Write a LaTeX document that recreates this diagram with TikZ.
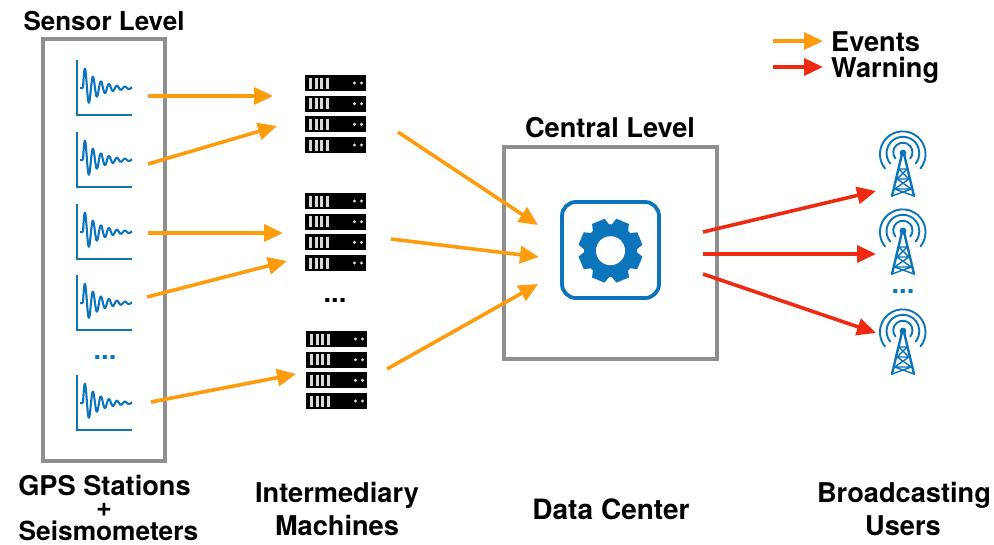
\documentclass[tikz,border=0pt]{standalone}
\usepackage{fontspec}
\setmainfont{TeX Gyre Heros}
\usetikzlibrary{arrows.meta}
\definecolor{iconblue}{HTML}{0B74BA}
\definecolor{evorange}{HTML}{FF9C0D}
\definecolor{warnred}{HTML}{EE2B12}
\definecolor{boxgray}{HTML}{8F8F8F}
\tikzset{
  lbl/.style={font=\bfseries\fontsize{27.2}{30}\selectfont, text=black, inner sep=0pt},
  tier/.style={draw=boxgray, line width=3.8pt, fill=none},
  ev/.style={draw=evorange, line width=3.6pt, -{Triangle[length=19pt,width=17pt]}},
  warn/.style={draw=warnred, line width=3.6pt, -{Triangle[length=19pt,width=17pt]}},
  sensor/.pic={
    \draw[iconblue, line width=2.5pt] (0,0) -- (0,55) -- (55,55);
    \draw[iconblue, line width=2.1pt, line join=round] (3,28) -- (6,28)
      plot[smooth, domain=0:49, samples=100] ({6+\x}, {28-22*exp(-\x/15)*sin(\x*45)});
  },
  rackrow/.pic={
    \fill[black] (0,0) rectangle (61,16);
    \foreach \b in {4,9.5,15,20.5} \fill[white!85!black] (\b,2.5) rectangle +(3,11);
    \foreach \b in {49.5,56.5} \fill[white!85!black] (\b,8) circle (1.7);
  },
  rack/.pic={
    \pic at (0,0) {rackrow};
    \pic at (0,20.7) {rackrow};
    \pic at (0,41.4) {rackrow};
    \pic at (0,62) {rackrow};
  },
  mast/.pic={
    \begin{scope}[iconblue, line width=1.9pt, line cap=round, line join=round]
      \draw (-7.5,25.5) arc[start angle=140,end angle=400,radius=9.6];
      \draw (-12.8,30.5) arc[start angle=141,end angle=399,radius=16.4];
      \draw (-18,35.5) arc[start angle=141,end angle=399,radius=22.8];
      \fill (0,20) circle (3.4);
      \draw[line width=2.4pt] (-1,21) -- (-11,63) (1,21) -- (11,63);
      \draw[line width=1.4pt] (-4.2,36) -- (4.2,36) -- (-6,46) -- (6,46) -- (-8.4,56) -- (8.4,56) -- (-11,63)
        (-4.2,36) -- (6,46) (-6,46) -- (8.4,56) (-8.4,56) -- (11,63);
    \end{scope}
  },
}
\begin{document}
\begin{tikzpicture}[x=1pt,y=-1pt]
\useasboundingbox (0,0) rectangle (994,544);
% tier boxes
\node[tier, minimum width=122pt, minimum height=422pt, inner sep=0pt] (sensorbox) at (104,250) {};
\node[tier, minimum width=213pt, minimum height=212pt, inner sep=0pt] (centralbox) at (610.5,253) {};
% titles
\node[lbl, font=\bfseries\fontsize{26}{30}\selectfont] (tsensor) at (104,21) {Sensor Level};
\node[lbl] (tcentral) at (610,128) {Central Level};
\node[lbl] (tgps) at (104.5,486) {GPS Stations};
\node[lbl] (tplus) at (104,509.5) {+};
\node[lbl, font=\bfseries\fontsize{26.3}{30}\selectfont] (tseis) at (108.5,530.5) {Seismometers};
\node[lbl] (tint) at (337,495) {Intermediary};
\node[lbl] (tmach) at (337,525) {Machines};
\node[lbl, font=\bfseries\fontsize{28}{30}\selectfont] (tdc) at (611,509) {Data Center};
\node[lbl] (tbro) at (904,495) {Broadcasting};
\node[lbl] (tusr) at (903,526) {Users};
\node[lbl, anchor=west] (tev) at (831,42) {Events};
\node[lbl, anchor=west] (twarn) at (831,70) {Warning};
% sensors
\pic at (77,60) {sensor};
\pic at (77,132) {sensor};
\pic at (77,204) {sensor};
\pic at (77,275) {sensor};
\pic at (77,375) {sensor};
\node[lbl, text=iconblue] (d1) at (105,358) {...};
% racks
\pic at (305,75) {rack};
\pic at (305,193) {rack};
\pic at (306,331) {rack};
\node[lbl] (d2) at (335,301) {...};
% data centre
\draw[iconblue, line width=3.8pt, rounded corners=14pt, fill=white] (562,202) rectangle (659,298);
\begin{scope}[shift={(610.5,250.7)}]
  \foreach \a in {0,45,...,315} {
    \fill[iconblue] ({\a+22.5-20}:26) -- ({\a+22.5-12}:32.5) -- ({\a+22.5+12}:32.5) -- ({\a+22.5+20}:26) -- cycle;
  }
  \fill[iconblue] (0,0) circle (26.5);
  \fill[white] (0,0) circle (14.5);
\end{scope}
% towers
\pic at (903,133) {mast};
\pic at (903,211) {mast};
\pic at (903,311) {mast};
\node[lbl, text=iconblue] (d3) at (903,292) {...};
% arrow ends
\coordinate (a1) at (148,96);   \coordinate (b1) at (273,96);
\coordinate (a2) at (148,164);  \coordinate (b2) at (277,126);
\coordinate (a3) at (148,233);  \coordinate (b3) at (283,233);
\coordinate (a4) at (147,297);  \coordinate (b4) at (287,261);
\coordinate (a5) at (151,402);  \coordinate (b5) at (296,374);
\coordinate (c1) at (398,132);  \coordinate (e1) at (538,225);
\coordinate (c2) at (391,239);  \coordinate (e2) at (539,257);
\coordinate (c3) at (387,369);  \coordinate (e3) at (538,284);
\coordinate (f1) at (703,232);  \coordinate (g1) at (876,191);
\coordinate (f2) at (703,254);  \coordinate (g2) at (876,254);
\coordinate (f3) at (703,274);  \coordinate (g3) at (876,333);
\coordinate (l1) at (773,41);   \coordinate (m1) at (823,41);
\coordinate (l2) at (773,67);   \coordinate (m2) at (823,67);
\foreach \p/\q in {a1/b1,a2/b2,a3/b3,a4/b4,a5/b5,c1/e1,c2/e2,c3/e3,l1/m1} \draw[ev] (\p) -- (\q);
\foreach \p/\q in {f1/g1,f2/g2,f3/g3,l2/m2} \draw[warn] (\p) -- (\q);
\end{tikzpicture}
\end{document}
